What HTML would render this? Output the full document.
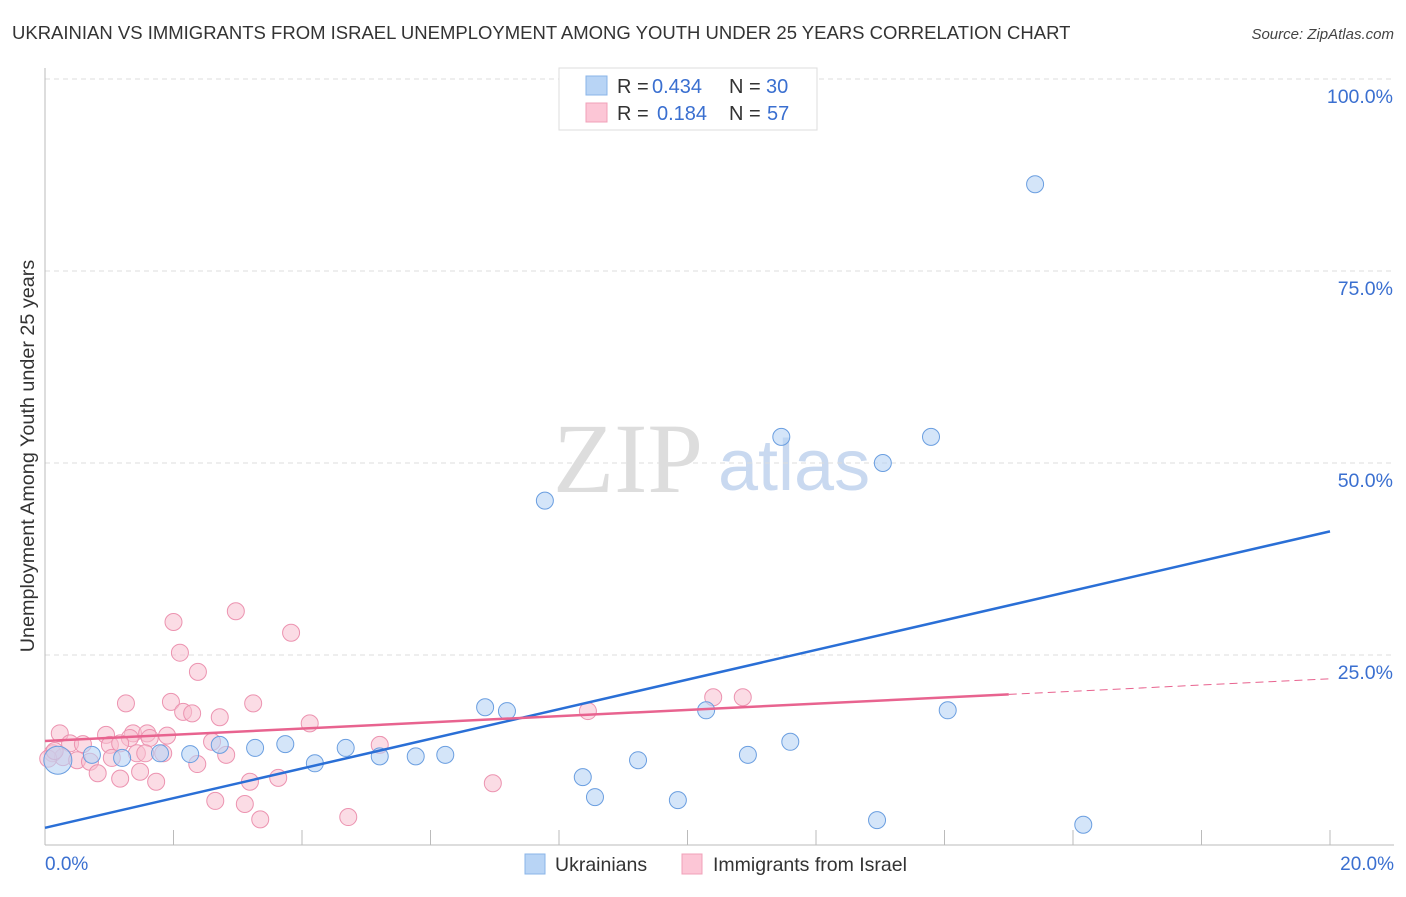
<!DOCTYPE html>
<html><head><meta charset="utf-8"><style>
body{margin:0;background:#fff;font-family:"Liberation Sans",sans-serif;}
svg text{font-family:"Liberation Sans",sans-serif;}
svg text.serif{font-family:"Liberation Serif",serif;}
</style></head><body>
<svg id="chart" width="1406" height="892" xmlns="http://www.w3.org/2000/svg">
<text x="12" y="39" font-size="18.5" fill="#333">UKRAINIAN VS IMMIGRANTS FROM ISRAEL UNEMPLOYMENT AMONG YOUTH UNDER 25 YEARS CORRELATION CHART</text>
<text x="1394" y="39" font-size="15" fill="#444" text-anchor="end" font-style="italic">Source: ZipAtlas.com</text>
<text class="serif" x="553" y="492" font-size="100" fill="#ddd">ZIP</text>
<text x="718" y="490" font-size="72" fill="#c9d9f0">atlas</text>
<text transform="translate(34,456) rotate(-90)" font-size="19.8" fill="#333" text-anchor="middle">Unemployment Among Youth under 25 years</text>
<g id="grid"></g><g id="ticks"></g><g id="pts"></g><g id="lines"></g>
<g>
<rect x="559" y="68" width="258" height="62" fill="#fff" stroke="#ddd"/>
<rect x="586" y="76" width="21" height="19" fill="#b8d4f5" stroke="#8ab4e8"/>
<rect x="586" y="103" width="21" height="19" fill="#fcc6d6" stroke="#f0a0b8"/>
<text x="617" y="93" font-size="20" fill="#333">R =</text>
<text x="652" y="93" font-size="20" fill="#3a6fd0">0.434</text>
<text x="729" y="93" font-size="20" fill="#333">N =</text>
<text x="766" y="93" font-size="20" fill="#3a6fd0">30</text>
<text x="617" y="120" font-size="20" fill="#333">R =</text>
<text x="657" y="120" font-size="20" fill="#3a6fd0">0.184</text>
<text x="729" y="120" font-size="20" fill="#333">N =</text>
<text x="767" y="120" font-size="20" fill="#3a6fd0">57</text>
</g>
<g>
<rect x="525" y="854" width="20" height="20" fill="#b8d4f5" stroke="#8ab4e8"/>
<text x="555" y="871" font-size="19.5" fill="#333">Ukrainians</text>
<rect x="682" y="854" width="20" height="20" fill="#fcc6d6" stroke="#f0a0b8"/>
<text x="713" y="871" font-size="19.5" fill="#333">Immigrants from Israel</text>
</g>
</svg>
<script>
const yTicks=[25,50,75,100];
const blueX=[15.41,11.46,13.79,13.04,7.78,6.85,7.19,10.29,14.05,11.6,10.94,9.23,8.37,8.56,9.85,12.95,16.16,0.2,1.2,1.79,2.26,2.72,3.27,3.74,4.2,4.68,5.21,5.77,6.23,0.73];
const blueY=[86.3,53.4,53.4,50.0,45.1,18.2,17.7,17.8,17.8,13.7,12.0,11.3,9.1,6.5,6.1,3.5,2.9,11.3,11.6,12.2,12.1,13.3,12.9,13.4,10.9,12.9,11.8,11.8,12.0,12.0];
const pinkX=[2.97,2.0,3.83,2.1,2.38,1.26,1.96,3.24,2.15,2.29,2.72,4.12,0.23,0.95,1.37,1.59,1.9,2.6,1.32,1.63,0.39,0.59,1.01,1.17,0.12,0.28,0.5,0.7,1.04,1.43,1.56,1.84,2.82,2.37,0.82,1.48,1.17,1.73,3.19,3.63,2.65,3.11,3.35,4.72,5.21,6.97,8.45,10.4,10.86,0.05,0.15];
const pinkY=[30.7,29.3,27.9,25.3,22.8,18.7,18.9,18.7,17.6,17.4,16.9,16.1,14.8,14.6,14.8,14.8,14.5,13.7,14.2,14.2,13.5,13.4,13.3,13.5,12.2,11.7,11.3,11.1,11.6,12.2,12.2,12.2,12.0,10.8,9.6,9.8,8.9,8.5,8.5,9.0,6.0,5.6,3.6,3.9,13.3,8.3,17.7,19.5,19.5,11.5,12.5];
const blueLine=[2.5,41.1];
const pinkLine=[13.8,21.9];
const pinkSolidEnd=15;
const X=v=>45+v*64.25, Y=v=>847-v*7.68;
const NS='http://www.w3.org/2000/svg';
function mk(tag,attrs,parent){const e=document.createElementNS(NS,tag);for(const k in attrs)e.setAttribute(k,attrs[k]);document.getElementById(parent).appendChild(e);return e;}
yTicks.forEach(t=>{
 const l=mk('line',{x1:45,x2:1394,y1:Y(t),y2:Y(t),stroke:'#ddd','stroke-dasharray':'5,4'},'grid');
 
 
 const tx=mk('text',{x:1393,y:Y(t)+24,'font-size':19.5,fill:'#3a6fd0','text-anchor':'end'},'grid');
 tx.textContent=t.toFixed(1)+'%';
 
 
});
const ya=mk('line',{x1:45,x2:45,y1:68,y2:845,stroke:'#bbb'},'ticks');


const xa=mk('line',{x1:45,x2:1394,y1:845,y2:845,stroke:'#bbb'},'ticks');


for(let v=0;v<=20;v+=2){const t=mk('line',{x1:X(v),x2:X(v),y1:830,y2:845,stroke:'#bbb'},'ticks');
 
 }
[[0,'start',45],[20,'end',1394]].forEach(([v,a,px])=>{const t=mk('text',{x:px,y:870,'font-size':19,fill:'#3a6fd0','text-anchor':a},'ticks');t.textContent=v.toFixed(1)+'%';
 
 });
pinkX.forEach((x,i)=>{const c=mk('circle',{cx:X(x),cy:Y(pinkY[i]),r:8.5,fill:'#f8bfd0','fill-opacity':0.55,stroke:'#ec93b0','stroke-width':1},'pts');
 
 });
blueX.forEach((x,i)=>{const c=mk('circle',{cx:X(x),cy:Y(blueY[i]),r:i==17?14:8.5,fill:'#b8d4f5','fill-opacity':0.6,stroke:'#6a9ee0','stroke-width':1},'pts');
 
 });
const bl=mk('line',{x1:X(0),y1:Y(blueLine[0]),x2:X(20),y2:Y(blueLine[1]),stroke:'#2a6fd6','stroke-width':2.5},'lines');


const pm=pinkLine[0]+(pinkLine[1]-pinkLine[0])*pinkSolidEnd/20;
const pl=mk('line',{x1:X(0),y1:Y(pinkLine[0]),x2:X(pinkSolidEnd),y2:Y(pm),stroke:'#e8638f','stroke-width':2.5},'lines');


const pd=mk('line',{x1:X(pinkSolidEnd),y1:Y(pm),x2:X(20),y2:Y(pinkLine[1]),stroke:'#e8638f','stroke-width':1,'stroke-dasharray':'8,5'},'lines');


</script>
</body></html>
